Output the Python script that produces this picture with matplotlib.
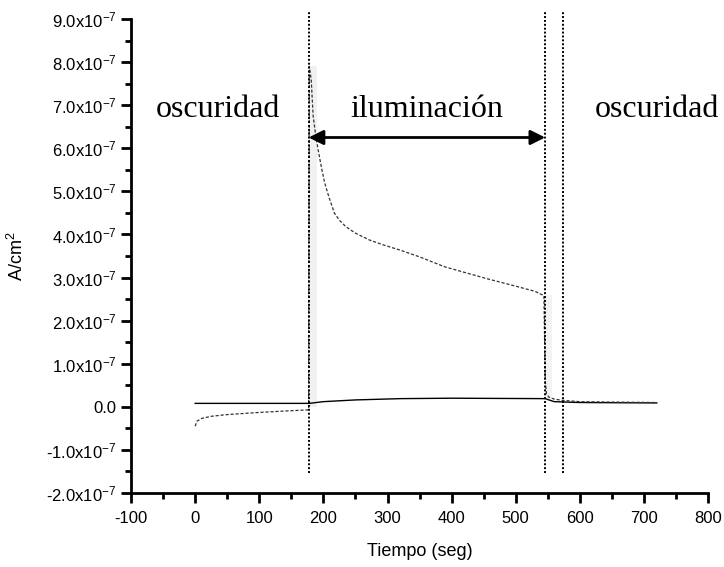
import numpy as np
import matplotlib.pyplot as plt
from matplotlib.ticker import MultipleLocator

# photocurrent transient, current density in units of 1e-7 A/cm2
t_dark = [0, 178, 200, 250, 320, 400, 546, 560, 600, 720]
j_dark = [0.08, 0.08, 0.12, 0.16, 0.19, 0.2, 0.19, 0.12, 0.1, 0.09]

t_light = [0, 3, 10, 25, 50, 100, 150, 177, 178, 181, 184, 188, 192, 197,
           202, 209, 217, 225, 235, 250, 272, 295, 319, 350, 389, 420, 456,
           500, 530, 544, 546, 548, 552, 560, 573, 600, 650, 720]
j_light = [-0.45, -0.33, -0.27, -0.22, -0.18, -0.13, -0.09, -0.07, 7.9, 7.6,
           6.75, 6.3, 5.95, 5.55, 5.2, 4.85, 4.5, 4.33, 4.18, 4.03, 3.87,
           3.75, 3.64, 3.48, 3.25, 3.12, 2.97, 2.8, 2.68, 2.58, 0.6, 0.3,
           0.22, 0.18, 0.15, 0.12, 0.11, 0.1]

# light on / off markers (s)
t_marks = [177, 546, 573]

yticks = np.arange(-2, 10, 1)
ytick_labels = ['0.0' if v == 0 else
                r'%.1fx10$\mathregular{^{-7}}$' % v for v in yticks]

scale = 1e-7
j_dark = np.array(j_dark) * scale
j_light = np.array(j_light) * scale

plt.rcParams['font.family'] = ['Liberation Sans', 'DejaVu Sans']
plt.rcParams['axes.unicode_minus'] = False

fig = plt.figure(figsize=(7.24, 5.67), dpi=100)
ax = fig.add_axes([0.181, 0.1305, 0.797, 0.836])

# dense points around the switching edges
ax.fill_betweenx([0, 7.9 * scale], 179, 190, color='#f1f1f1', lw=0, zorder=1)
ax.fill_betweenx([0.2 * scale, 2.6 * scale], 546, 556, color='#f3f3f3', lw=0, zorder=1)

ax.plot(t_dark, j_dark, color='black', lw=1.0, zorder=3)
ax.plot(t_light, j_light, color='#333333', lw=0.9, ls=(0, (2.5, 1.5)), zorder=3)

for tm in t_marks:
    ax.plot([tm, tm], [-1.53 * scale, 9.16 * scale], color='black', lw=1.4,
            ls=(0, (1, 1)), clip_on=False, zorder=4)

ax.annotate('', xy=(177, 6.25 * scale), xytext=(546, 6.25 * scale),
            arrowprops=dict(arrowstyle='<|-|>', color='black', lw=2,
                            mutation_scale=22, shrinkA=0, shrinkB=0))

serif = dict(family=['Liberation Serif', 'DejaVu Serif'], fontsize=23,
             ha='center', va='baseline')
ax.text(36, 6.73 * scale, 'oscuridad', **serif)
ax.text(361, 6.73 * scale, 'iluminación', **serif)
ax.text(720, 6.73 * scale, 'oscuridad', clip_on=False, **serif)

ax.set_xlim(-100, 800)
ax.set_ylim(-2 * scale, 9 * scale)
ax.xaxis.set_major_locator(MultipleLocator(100))
ax.xaxis.set_minor_locator(MultipleLocator(50))
ax.set_yticks(yticks * scale)
ax.set_yticklabels(ytick_labels)
ax.yaxis.set_minor_locator(MultipleLocator(0.5 * scale))

for side in ['top', 'right']:
    ax.spines[side].set_visible(False)
for side in ['left', 'bottom']:
    ax.spines[side].set_linewidth(2)

ax.tick_params(which='major', direction='out', length=7, width=2, labelsize=12)
ax.tick_params(axis='x', which='major', pad=6)
ax.tick_params(which='minor', direction='out', length=4, width=2)

ax.set_xlabel('Tiempo (seg)', fontsize=13, labelpad=12)
ax.set_ylabel(r'A/cm$\mathregular{^2}$', fontsize=13, labelpad=14)

fig.savefig('out.png', dpi=100, facecolor='white')
